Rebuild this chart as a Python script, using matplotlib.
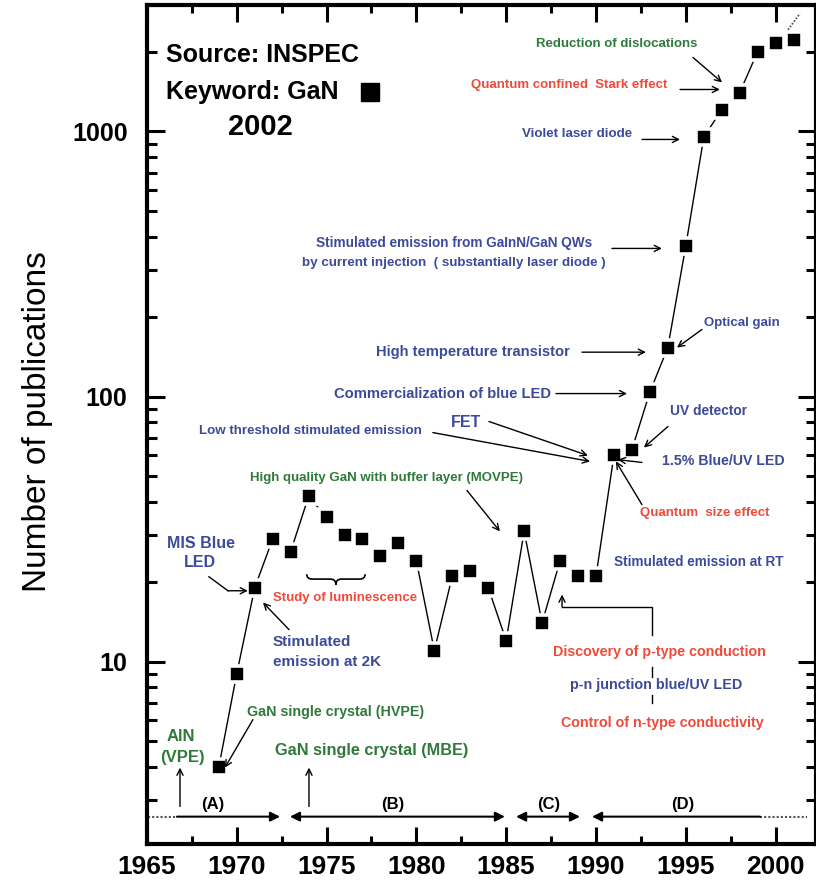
import matplotlib
matplotlib.use("Agg")
import matplotlib.pyplot as plt
from matplotlib.path import Path
from matplotlib.patches import PathPatch
from matplotlib.ticker import FixedLocator, MultipleLocator, LogLocator, NullFormatter
from matplotlib.transforms import Affine2D, ScaledTranslation


# ============================================================
# DATA (INSPEC, keyword GaN)
# ============================================================

years = list(range(1969, 2002))
publications = [4, 9, 19, 29, 26, 42, 35, 30, 29, 25, 28, 24, 11, 21, 22, 19,
                 12, 31, 14, 24, 21, 21, 60, 63, 104, 153, 370, 950, 1210, 1400,
                 2000, 2150, 2220]
year_ticks = [1965, 1970, 1975, 1980, 1985, 1990, 1995, 2000]
count_ticks = [10, 100, 1000]
count_labels = ["10", "100", "1000"]

BLUE = "#3c4a9a"
RED = "#ee4b3a"
GREEN = "#2f7a3a"
NARROW = ["Liberation Sans Narrow", "Liberation Sans"]


# ============================================================
# HELPERS
# ============================================================

def note(ax, x, y, text, color, size=10.5, ha="center", weight="bold"):
    ax.text(x, y, text, color=color, fontsize=size, ha=ha, va="center",
            family=NARROW, fontweight=weight)


def arrow(ax, tail, head, lw=1.0):
    ax.annotate("", xy=head, xytext=tail,
                arrowprops=dict(arrowstyle="->", color="black", lw=lw,
                                shrinkA=0, shrinkB=0, mutation_scale=11))


def era_arrow(ax, tail, head, style):
    ax.annotate("", xy=head, xytext=tail,
                arrowprops=dict(arrowstyle=style, color="black", lw=1.5,
                                shrinkA=0, shrinkB=0, mutation_scale=14))


def brace(fig, ax, x, y):
    # horizontal curly brace, tip down, shape given in points
    verts = [(-21, 3), (-21, -0.5), (-17, -0.5), (-4, -0.5), (0, -0.5), (0, -4.5),
             (0, -0.5), (4, -0.5), (17, -0.5), (21, -0.5), (21, 3)]
    codes = [Path.MOVETO, Path.CURVE3, Path.CURVE3, Path.LINETO, Path.CURVE3, Path.CURVE3,
             Path.CURVE3, Path.CURVE3, Path.LINETO, Path.CURVE3, Path.CURVE3]
    trans = Affine2D().scale(1 / 72.0) + fig.dpi_scale_trans + ScaledTranslation(x, y, ax.transData)
    ax.add_patch(PathPatch(Path(verts, codes), transform=trans, fill=False,
                           lw=1.2, color="black", clip_on=False))


# ============================================================
# FIGURE
# ============================================================

fig = plt.figure(figsize=(8.16, 8.92), dpi=100)
ax = fig.add_axes([0.1801, 0.0538, 0.8199, 0.9406])

ax.set_yscale("log")
ax.set_xlim(1965, 2002.25)
ax.set_ylim(2.05, 3000)

ax.plot(years, publications, "-", color="black", lw=1.0, zorder=2)
ax.plot(years, publications, "s", ms=12, mfc="black", mec="white", mew=2.6, zorder=3)

# axes styling
for side in ["left", "right", "top", "bottom"]:
    ax.spines[side].set_linewidth(3)
ax.xaxis.set_major_locator(FixedLocator(year_ticks))
ax.xaxis.set_minor_locator(MultipleLocator(2.5))
ax.yaxis.set_major_locator(FixedLocator(count_ticks))
ax.set_yticklabels(count_labels)
ax.yaxis.set_minor_locator(LogLocator(base=10, subs=range(2, 10)))
ax.yaxis.set_minor_formatter(NullFormatter())
ax.tick_params(axis="both", which="both", direction="in", top=True, right=True, width=2.2)
ax.tick_params(axis="x", which="major", length=12, pad=8)
ax.tick_params(axis="x", which="minor", length=6)
ax.tick_params(axis="y", which="major", length=13, pad=14)
ax.tick_params(axis="y", which="minor", length=7)
for lab in ax.get_xticklabels():
    lab.set_fontsize(19)
    lab.set_fontweight("bold")
    lab.set_family("Liberation Sans")
for lab in ax.get_yticklabels():
    lab.set_fontsize(18)
    lab.set_fontweight("bold")
    lab.set_family("Liberation Sans")

ax.text(-0.163, 0.503, "Number of publications", transform=ax.transAxes, rotation=90,
        ha="center", va="center", fontsize=24, family="Liberation Sans")

# source block
ax.text(0.0284, 0.9404, "Source: INSPEC", transform=ax.transAxes, ha="left", va="center",
        fontsize=18, fontweight="bold", family="Liberation Sans")
ax.text(0.0284, 0.8963, "Keyword: GaN", transform=ax.transAxes, ha="left", va="center",
        fontsize=18, fontweight="bold", family="Liberation Sans")
ax.plot([0.3333], [0.8963], "s", ms=12.5, color="black", transform=ax.transAxes, clip_on=False)
ax.text(0.1689, 0.8546, "2002", transform=ax.transAxes, ha="center", va="center",
        fontsize=21, fontweight="bold", family="Liberation Sans")

# dotted continuation after 2001
ax.plot([2000.58, 2001.36], [2364, 2786], color="#444444", lw=1.2, ls=(0, (1, 1)))

# ============================================================
# ANNOTATIONS
# ============================================================

note(ax, 1991.17, 2129, "Reduction of dislocations", GREEN, 9.5)
arrow(ax, (1995.40, 1902), (1997.02, 1531))
note(ax, 1993.95, 1503, "Quantum confined  Stark effect", RED, 9.5, ha="right")
arrow(ax, (1994.68, 1440), (1996.90, 1440))
note(ax, 1988.94, 974, "Violet laser diode", BLUE, 9.6)
arrow(ax, (1992.56, 933), (1994.68, 933))

note(ax, 1982.09, 378, "Stimulated emission from GaInN/GaN QWs", BLUE, 9.8)
note(ax, 1982.09, 320, "by current injection  ( substantially laser diode )", BLUE, 9.6)
arrow(ax, (1990.89, 362), (1993.67, 362))
note(ax, 1996.01, 190, "Optical gain", BLUE, 9.5, ha="left")
arrow(ax, (1995.90, 179), (1994.51, 153))
note(ax, 1983.15, 147, "High temperature transistor", BLUE, 10.6)
arrow(ax, (1989.22, 147), (1992.78, 147))
note(ax, 1981.48, 102.6, "Commercialization of blue LED", BLUE, 10.6)
arrow(ax, (1987.77, 102.6), (1991.73, 102.6))

note(ax, 1982.76, 79.8, "FET", BLUE, 11.5)
arrow(ax, (1984.04, 80.5), (1989.55, 59.9))
note(ax, 1974.08, 73.8, "Low threshold stimulated emission", BLUE, 9.6)
arrow(ax, (1980.92, 73.1), (1989.67, 56.9))
note(ax, 1996.29, 87.8, "UV detector", BLUE, 9.9)
arrow(ax, (1994.01, 77.1), (1992.67, 64.2))
note(ax, 1997.07, 56.9, "1.5% Blue/UV LED", BLUE, 10.2)
arrow(ax, (1992.56, 56.4), (1991.22, 57.8))
note(ax, 1996.07, 36.5, "Quantum  size effect", RED, 9.5)
arrow(ax, (1992.56, 39.1), (1991.11, 56.9))

note(ax, 1978.36, 49.4, "High quality GaN with buffer layer (MOVPE)", GREEN, 9.5)
arrow(ax, (1982.82, 44.2), (1984.65, 31.0))

note(ax, 1968.0, 27.9, "MIS Blue", BLUE, 11.5)
note(ax, 1967.95, 23.6, "LED", BLUE, 11.5)
ax.plot([1968.45, 1969.51], [20.9, 18.5], color="black", lw=1.0)
arrow(ax, (1969.51, 18.5), (1970.62, 18.5))

brace(fig, ax, 1975.52, 20.6)
note(ax, 1976.02, 17.4, "Study of luminescence", RED, 9.5)

note(ax, 1972.02, 11.9, "Stimulated", BLUE, 11, ha="left")
note(ax, 1972.02, 10.0, "emission at 2K", BLUE, 11, ha="left")
arrow(ax, (1972.91, 13.2), (1971.46, 16.7))

note(ax, 1991.0, 23.8, "Stimulated emission at RT", BLUE, 9.75, ha="left")
ax.plot([1990.11, 1990.39], [20.9, 22.2], color="black", lw=1.0)

note(ax, 1993.51, 10.9, "Discovery of p-type conduction", RED, 10.3)
note(ax, 1993.34, 8.19, "p-n junction blue/UV LED", BLUE, 10.4)
note(ax, 1993.67, 5.84, "Control of n-type conductivity", RED, 10.3)
ax.plot([1993.12, 1993.12, 1988.11], [12.6, 16.1, 16.1], color="black", lw=1.0)
arrow(ax, (1988.11, 16.1), (1988.11, 17.9))
ax.plot([1993.12, 1993.12], [9.5, 8.77], color="black", lw=1.0)
ax.plot([1993.12, 1993.12], [7.5, 7.0], color="black", lw=1.0)

note(ax, 1975.52, 6.48, "GaN single crystal (HVPE)", GREEN, 10.3)
arrow(ax, (1970.90, 6.04), (1969.34, 3.98))
note(ax, 1966.89, 5.21, "AlN", GREEN, 12)
note(ax, 1967.0, 4.34, "(VPE)", GREEN, 12)
arrow(ax, (1966.84, 2.84), (1966.84, 3.98))
note(ax, 1977.53, 4.62, "GaN single crystal (MBE)", GREEN, 11.7)
arrow(ax, (1974.02, 2.84), (1974.02, 3.98))

# eras along the bottom
era_y = 2.60
ax.plot([1965.06, 1966.67], [era_y, era_y], color="#555555", lw=1.5, ls=(0, (1, 1)))
era_arrow(ax, (1966.67, era_y), (1972.41, era_y), "-|>")
era_arrow(ax, (1972.96, era_y), (1984.93, era_y), "<|-|>")
era_arrow(ax, (1985.55, era_y), (1989.11, era_y), "<|-|>")
era_arrow(ax, (1999.13, era_y), (1989.78, era_y), "-|>")
ax.plot([1999.13, 2001.75], [era_y, era_y], color="#555555", lw=1.5, ls=(0, (1, 1)))
for label, x in [("(A)", 1968.67), ("(B)", 1978.70), ("(C)", 1987.38), ("(D)", 1994.84)]:
    note(ax, x, 2.89, label, "black", 12)

fig.savefig("out.png", dpi=100)
